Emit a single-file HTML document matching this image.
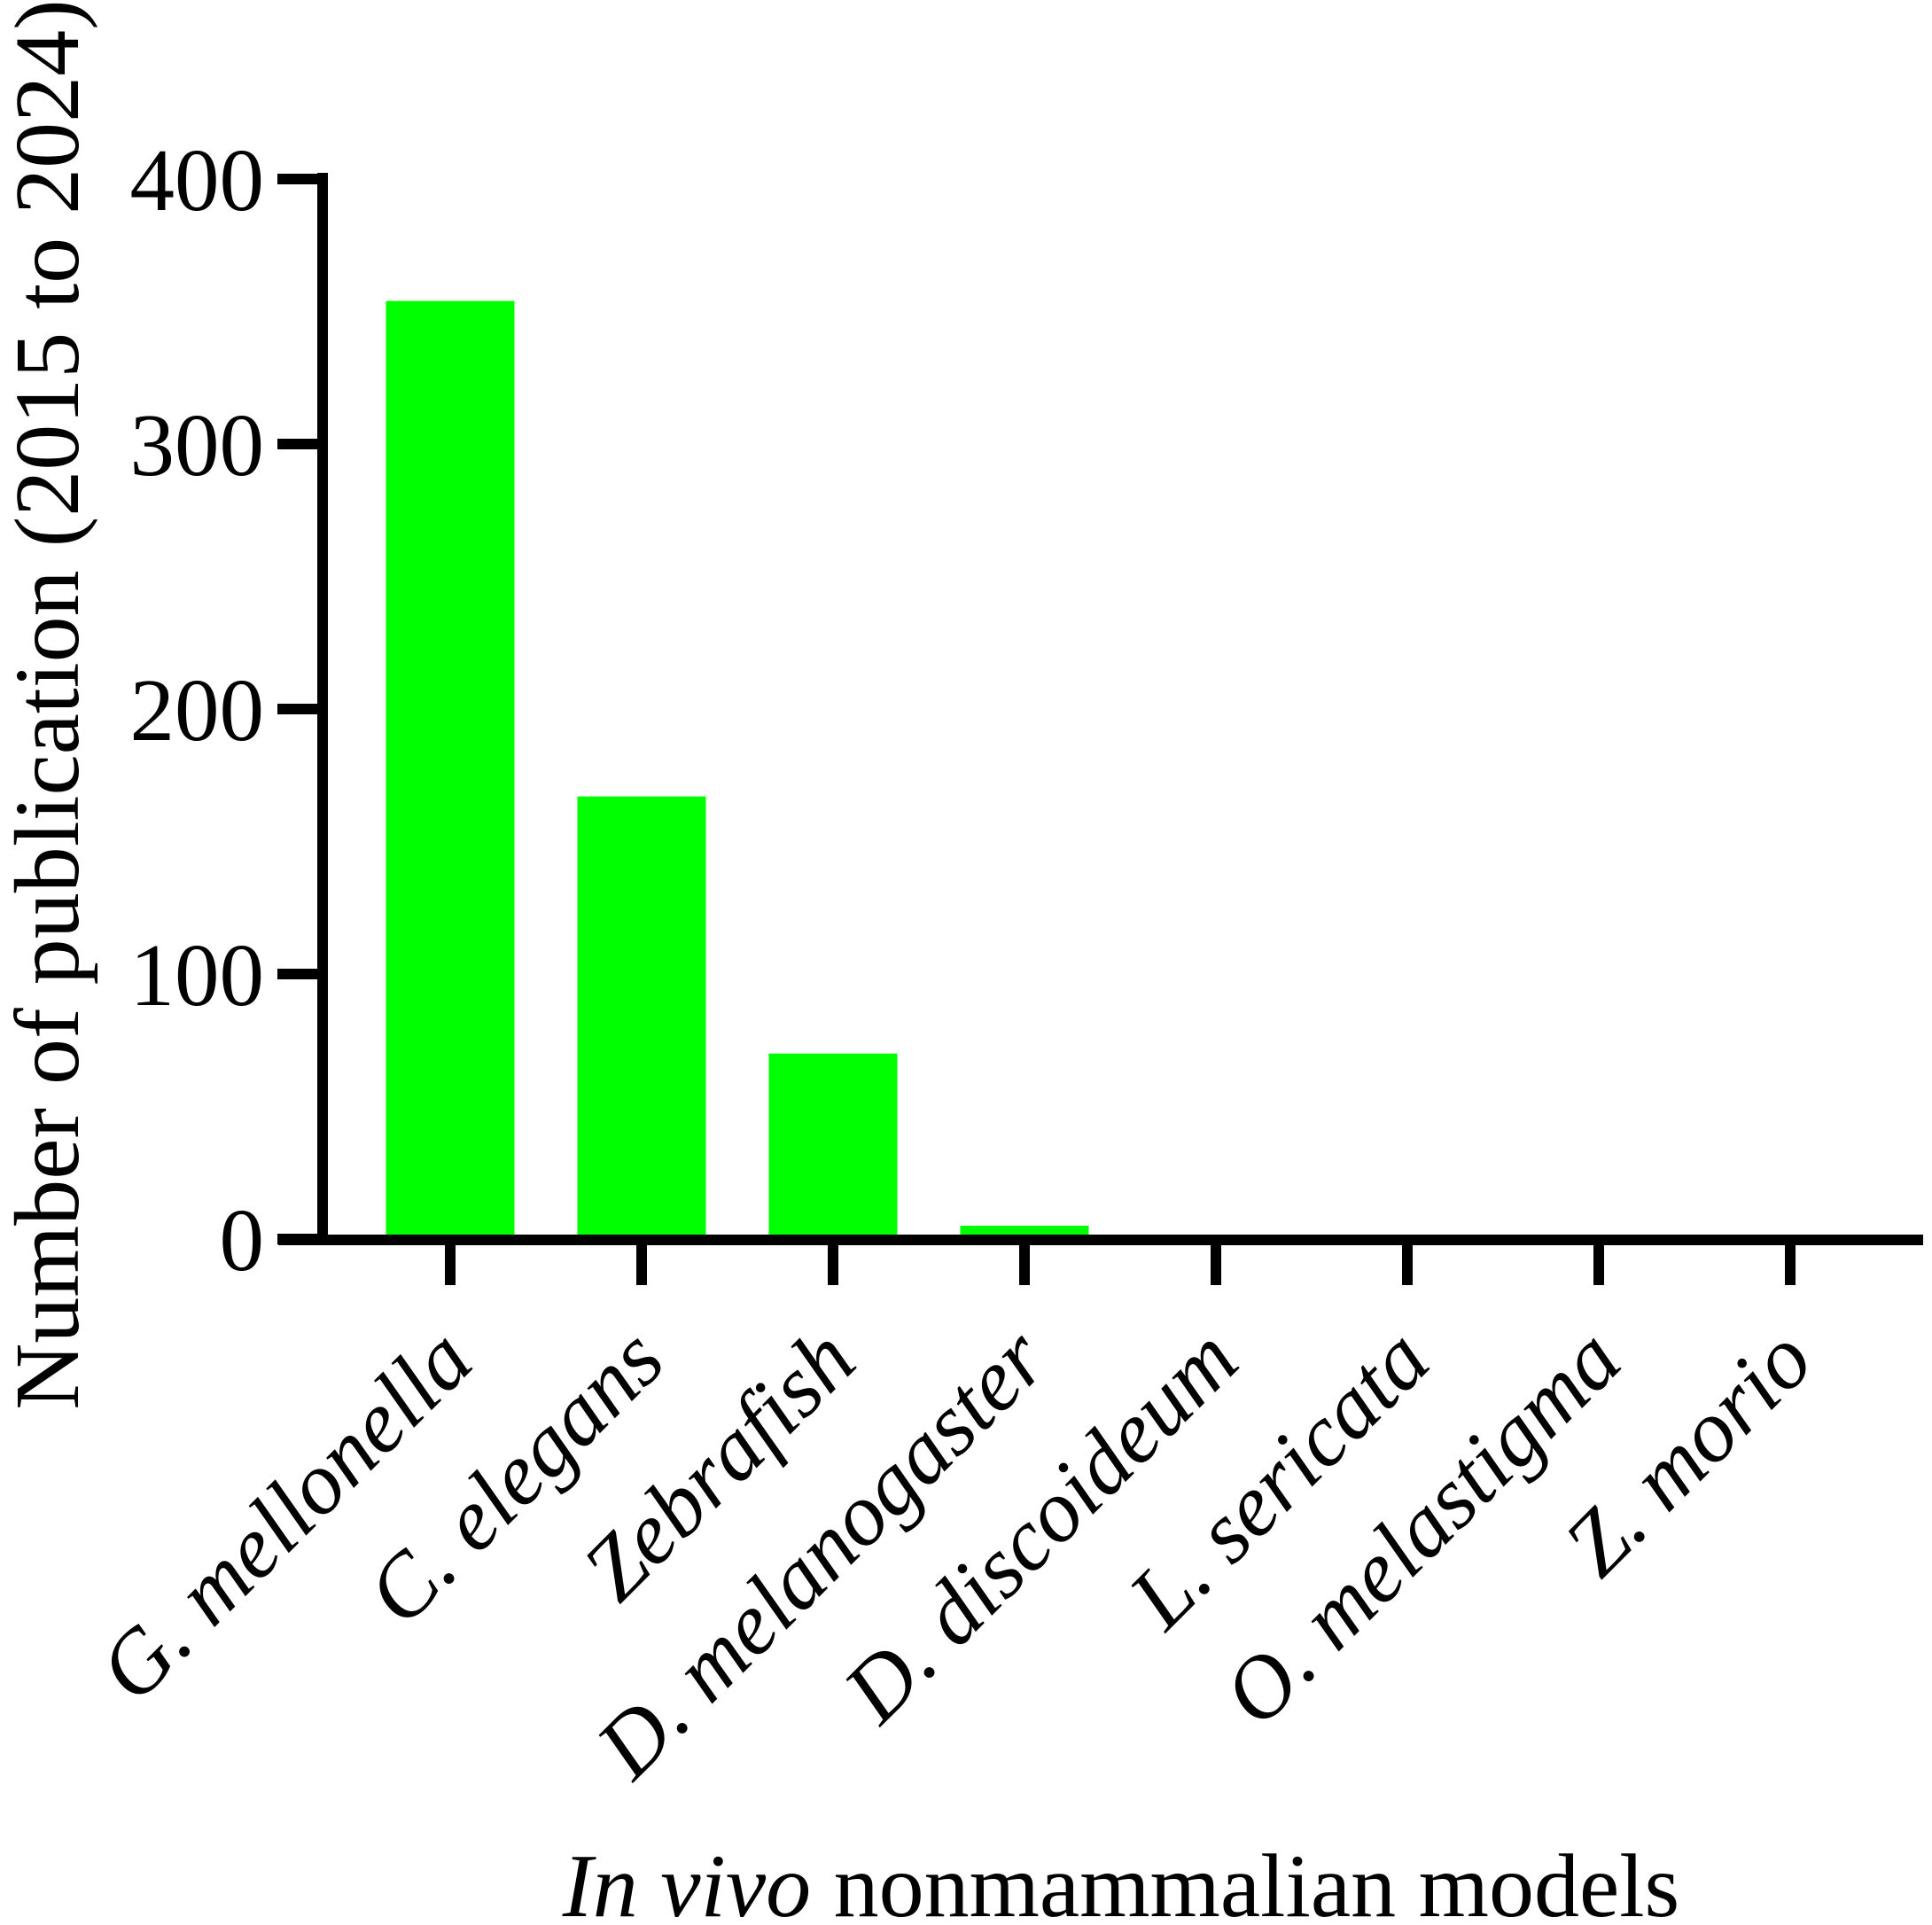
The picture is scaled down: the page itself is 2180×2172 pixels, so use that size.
<!DOCTYPE html>
<html><head><meta charset="utf-8"><style>
html,body{margin:0;padding:0;background:#fff;}
svg{display:block;font-family:"Liberation Serif","DejaVu Serif",serif;}
</style></head><body>
<svg id="chart" width="2180" height="2172" viewBox="0 0 2180 2172" xmlns="http://www.w3.org/2000/svg">
<g id="bars"></g>
<g id="axes"></g>
<text transform="translate(88,795) rotate(-90)" text-anchor="middle" font-size="104">Number of publication (2015 to 2024)</text>
<text x="1265" y="2162" text-anchor="middle" font-size="102"><tspan font-style="italic">In vivo</tspan> nonmammalian models</text>
</svg>
<script>
const categories = ["G. mellonella","C. elegans","Zebrafish","D. melanogaster","D. discoideum","L. sericata","O. melastigma","Z. morio"];
const values = [354, 167, 70, 5, 0, 0, 0, 0];
const yTicks = [0, 100, 200, 300, 400];

const NS = "http://www.w3.org/2000/svg";
const y0 = 1398, pxPerUnit = 2.99;
const yScale = v => y0 - v * pxPerUnit;
const xCenter = i => 508 + i * 216;
const barW = 145;
const barsG = document.getElementById('bars');
const axesG = document.getElementById('axes');
function mk(tag, attrs, parent){const e=document.createElementNS(NS,tag);for(const k in attrs)e.setAttribute(k,attrs[k]);parent.appendChild(e);return e;}

values.forEach((v,i)=>{
  const r = mk('rect',{x:xCenter(i)-barW/2,y:yScale(v),width:barW,height:Math.max(0,y0-yScale(v)),fill:'#00ff00'},barsG);
  
  
});

const yl = mk('rect',{x:358,y:195,width:12,height:1210,fill:'#000'},axesG);


const xl = mk('rect',{x:314,y:1393,width:1856,height:12,fill:'#000'},axesG);



yTicks.forEach(t=>{
  const y = yScale(t);
  const tk = mk('rect',{x:313,y:y-6,width:50,height:12,fill:'#000'},axesG);
  
  
  const lb = mk('text',{x:298,y:y+35,'text-anchor':'end','font-size':101},axesG);
  lb.textContent = t;
  
  
});

categories.forEach((c,i)=>{
  const x = xCenter(i);
  const tk = mk('rect',{x:x-6,y:1400,width:12,height:50,fill:'#000'},axesG);
  
  
  const lb = mk('text',{transform:'translate('+(x+30)+',1540) rotate(-45)','text-anchor':'end','font-size':100,'font-style':'italic'},axesG);
  lb.textContent = c;
  
  
});
</script>
</body></html>
